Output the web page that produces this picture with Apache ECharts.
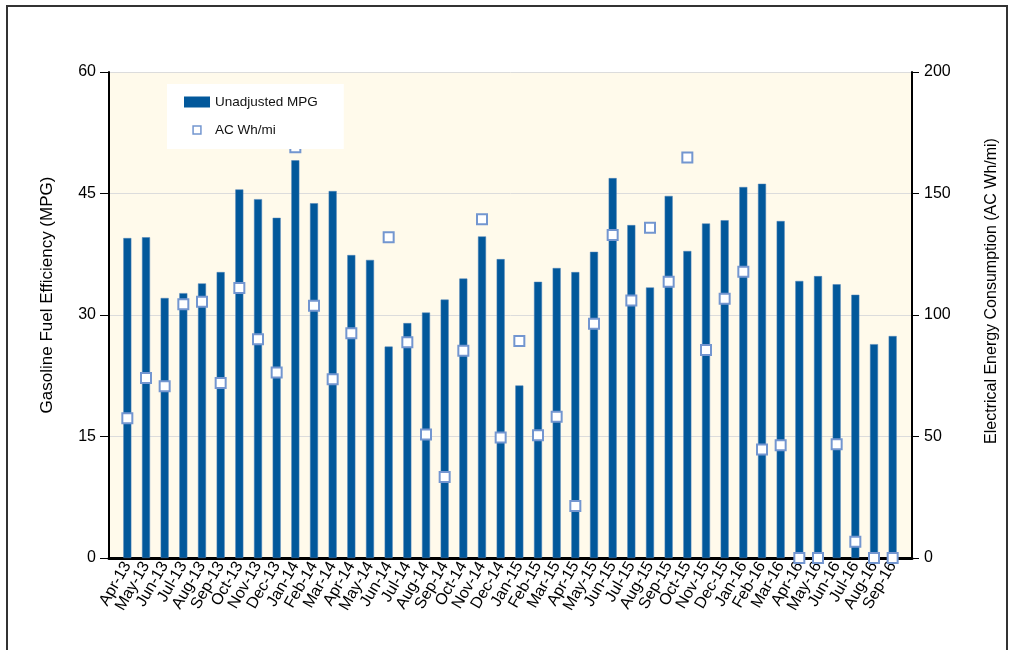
<!DOCTYPE html>
<html>
<head>
<meta charset="utf-8">
<script src="https://cdn.jsdelivr.net/npm/echarts@6/dist/echarts.min.js"></script>
<style>
  html, body { margin: 0; padding: 0; background: #fff; }
  #chart { width: 1013px; height: 650px; }
</style>
</head>
<body>
<div id="chart"></div>
<script>
// month labels
const months = [
  'Apr-13', 'May-13', 'Jun-13', 'Jul-13', 'Aug-13', 'Sep-13', 'Oct-13', 'Nov-13', 'Dec-13',
  'Jan-14', 'Feb-14', 'Mar-14', 'Apr-14', 'May-14', 'Jun-14', 'Jul-14', 'Aug-14', 'Sep-14',
  'Oct-14', 'Nov-14', 'Dec-14', 'Jan-15', 'Feb-15', 'Mar-15', 'Apr-15', 'May-15', 'Jun-15',
  'Jul-15', 'Aug-15', 'Sep-15', 'Oct-15', 'Nov-15', 'Dec-15', 'Jan-16', 'Feb-16', 'Mar-16',
  'Apr-16', 'May-16', 'Jun-16', 'Jul-16', 'Aug-16', 'Sep-16'
];

// gasoline MPG (left axis)
const mpg = [
  39.5, 39.6, 32.1, 32.7, 33.9, 35.3, 45.5, 44.3, 42.0,
  49.1, 43.8, 45.3, 37.4, 36.8, 26.1, 29.0, 30.3, 31.9,
  34.5, 39.7, 36.9, 21.3, 34.1, 35.8, 35.3, 37.8, 46.9,
  41.1, 33.4, 44.7, 37.9, 41.3, 41.7, 45.8, 46.2, 41.6,
  34.2, 34.8, 33.8, 32.5, 26.4, 27.4
];

// AC Wh/mi (right axis), null = no reading
const acWh = [
  57.5, 74.1, 70.7, 104.4, 105.5, 72.0, 111.1, 90.0, 76.3,
  169, 103.8, 73.6, 92.5, null, 132.0, 88.8, 50.8, 33.3,
  85.3, 139.4, 49.6, 89.3, 50.5, 58.1, 21.4, 96.4, 132.9,
  106.0, 135.9, 113.7, 164.8, 85.6, 106.7, 117.8, 44.6, 46.4,
  0, 0, 46.8, 6.7, 0, 0
];

const chart = echarts.init(document.getElementById('chart'));
const font = 'Liberation Sans, Arial, sans-serif';
const barBlue = '#02589b';
const markerBlue = '#7396d0';

// grid 0 carries the frame, axes and gridlines; grid 1 is inset a little
// so the first/last bars sit away from the axis lines like the original
const option = {
  animation: false,
  backgroundColor: '#fff',
  textStyle: { fontFamily: font },
  graphic: [
    {
      type: 'rect',
      shape: { x: 7, y: 6, width: 1000, height: 660 },
      style: { fill: 'none', stroke: '#333', lineWidth: 2 },
      silent: true,
      z: 0
    }
  ],
  grid: [
    { left: 109, right: 101, top: 72, bottom: 92, show: true, backgroundColor: '#fffaeb', borderWidth: 0 },
    { left: 118, right: 111, top: 72, bottom: 92 }
  ],
  legend: {
    orient: 'vertical',
    left: 167,
    top: 84,
    backgroundColor: '#fff',
    padding: [11, 26, 12, 17],
    itemGap: 14,
    itemWidth: 26,
    itemHeight: 11,
    textStyle: { fontFamily: font, fontSize: 13.5, color: '#111' },
    data: [
      { name: 'Unadjusted MPG', icon: 'rect', itemStyle: { color: barBlue, borderWidth: 0 } },
      {
        name: 'AC Wh/mi',
        // padded square so the legend marker draws smaller than the box
        icon: 'path://M0,0M14,14M2,2H12V12H2Z',
        itemStyle: { color: '#fff', borderColor: markerBlue, borderWidth: 1.5 }
      }
    ]
  },
  xAxis: [
    {
      type: 'value',
      gridIndex: 0,
      min: 0,
      max: 1,
      axisLine: { show: true, lineStyle: { color: '#000', width: 3 } },
      axisTick: { show: false },
      axisLabel: { show: false },
      splitLine: { show: false }
    },
    {
      type: 'category',
      gridIndex: 1,
      data: months,
      axisLine: { show: false },
      axisTick: { show: false },
      axisLabel: {
        rotate: 60,
        interval: 0,
        margin: 5,
        fontSize: 16,
        color: '#000',
        fontFamily: font
      }
    }
  ],
  yAxis: [
    {
      type: 'value',
      gridIndex: 0,
      min: 0,
      max: 60,
      interval: 15,
      name: 'Gasoline Fuel Efficiency (MPG)',
      nameLocation: 'middle',
      nameGap: 53,
      nameTextStyle: { fontSize: 17, color: '#000', fontFamily: font, padding: [0, 0, 0, 40] },
      axisLine: { show: true, lineStyle: { color: '#000', width: 2 } },
      axisTick: { show: true, length: 9, lineStyle: { color: '#000' } },
      axisLabel: { fontSize: 16, color: '#000', margin: 13, fontFamily: font },
      splitLine: { lineStyle: { color: '#dcdcdc' } }
    },
    {
      type: 'value',
      gridIndex: 0,
      min: 0,
      max: 200,
      interval: 50,
      position: 'right',
      name: 'Electrical Energy Consumption (AC Wh/mi)',
      nameLocation: 'middle',
      nameGap: 72,
      nameRotate: 90,
      nameTextStyle: { fontSize: 16, color: '#000', fontFamily: font, padding: [0, 0, 0, 48] },
      axisLine: { show: true, lineStyle: { color: '#000', width: 2 } },
      axisTick: { show: true, length: 7, lineStyle: { color: '#000' } },
      axisLabel: { fontSize: 16, color: '#000', margin: 12, fontFamily: font },
      splitLine: { show: false }
    },
    { type: 'value', gridIndex: 1, min: 0, max: 60, show: false },
    { type: 'value', gridIndex: 1, min: 0, max: 200, show: false, position: 'right' }
  ],
  series: [
    {
      name: 'Unadjusted MPG',
      type: 'bar',
      xAxisIndex: 1,
      yAxisIndex: 2,
      data: mpg,
      barWidth: 8,
      itemStyle: { color: barBlue, borderColor: '#4f80b8', borderWidth: 0.5 }
    },
    {
      name: 'AC Wh/mi',
      type: 'scatter',
      xAxisIndex: 1,
      yAxisIndex: 3,
      data: acWh,
      symbol: 'rect',
      symbolSize: 10,
      itemStyle: { color: '#fff', borderColor: markerBlue, borderWidth: 2, opacity: 1 },
      z: 3
    }
  ]
};

chart.setOption(option);
</script>
</body>
</html>
